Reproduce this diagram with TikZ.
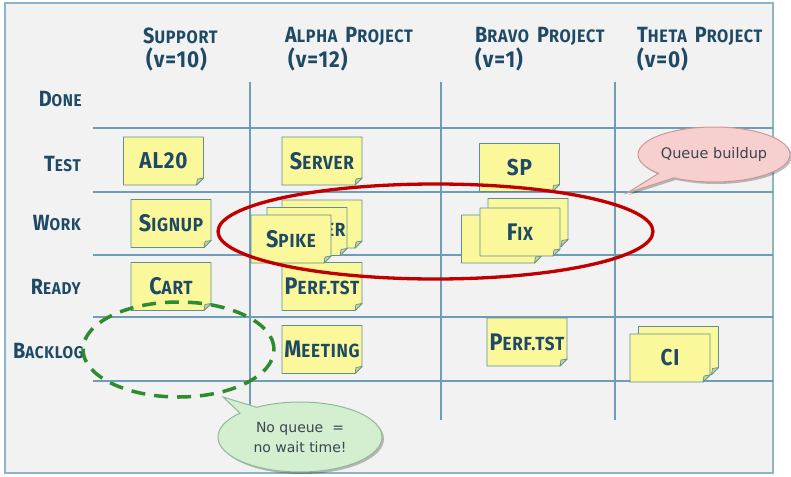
\documentclass[tikz,border=0pt]{standalone}
\usepackage{fontspec}
\usetikzlibrary{shapes.geometric,shapes.callouts,shadows}
\newfontfamily\hand[FakeStretch=0.9,LetterSpace=4]{Fira Sans}
\newfontfamily\callfont{DejaVu Sans}
\definecolor{ink}{HTML}{1F4A66}
\definecolor{framec}{HTML}{8DB4C8}
\definecolor{paper}{HTML}{F2F2F2}
\definecolor{gridc}{HTML}{6E9DB5}
\definecolor{stickyfill}{HTML}{FBF89C}
\definecolor{stickyline}{HTML}{5F8F93}
\definecolor{foldfill}{HTML}{C9D49A}
\definecolor{ringred}{HTML}{C00000}
\definecolor{ringgreen}{HTML}{2E8B2E}
\definecolor{pinkfill}{HTML}{F8CFCF}
\definecolor{pinkline}{HTML}{C79A9A}
\definecolor{greenfill}{HTML}{D3EFCF}
\definecolor{greenline}{HTML}{8DBB96}
\definecolor{calltext}{HTML}{3A4550}
\newcommand\hsc[4]{{\fontsize{#1}{#1}\selectfont #2}{\fontsize{#3}{#3}\selectfont #4}}
\newcommand\stx[2]{\hsc{24}{#1}{19}{#2}}
\newcommand\hdx[2]{\hsc{22}{#1}{18}{#2}}
\newcommand\rwx[2]{\hsc{22}{#1}{17}{#2}}
\newcommand\vtx[1]{{\fontsize{23}{23}\selectfont #1}}
\newcommand\wsp{\hspace{8pt}}
\newcommand\sticky[4]{%
  \coordinate (#1c) at (#2,#3);
  \filldraw[stickybody] ([shift={(-40,-24)}]#1c) -- ++(80,0) -- ++(0,41) -- ++(-7,7) -- ++(-73,0) -- cycle;
  \filldraw[stickyfold] ([shift={(40,17)}]#1c) -- ++(-7,7) -- ++(1,-6) -- cycle;
  \node[stickytext] (#1) at (#1c) {#4};
}
\tikzset{
  stickybody/.style={fill=stickyfill, draw=stickyline, line width=0.9pt, line join=round},
  stickyfold/.style={fill=foldfill, draw=stickyline, line width=0.7pt, line join=round},
  stickytext/.style={inner sep=0pt, text=ink, font=\hand\bfseries},
  header/.style={inner sep=0pt, text=ink, font=\hand\bfseries},
  rowlabel/.style={inner sep=0pt, text=ink, font=\hand\bfseries, anchor=east},
  gridline/.style={draw=gridc, line width=1.1pt},
  redring/.style={ellipse, draw=ringred, line width=3.3pt, inner sep=0pt},
  greenring/.style={ellipse, draw=ringgreen, line width=3.5pt, dash pattern=on 14pt off 9pt, inner sep=0pt},
  callbase/.style={ellipse callout, inner sep=0pt, font=\callfont, text=calltext, align=center,
    drop shadow={shadow xshift=2pt, shadow yshift=-2pt, opacity=0.25, fill=black}},
}
\begin{document}
\begin{tikzpicture}[x=1pt,y=-1pt]
\useasboundingbox (0,0) rectangle (791,476);
% frame
\filldraw[fill=paper, draw=framec, line width=2pt] (5,3) rectangle (773,473);
% grid
\foreach \yy in {128,192,255,317,381} \draw[gridline] (93,\yy) -- (773,\yy);
\foreach \xx in {250,441,615} \draw[gridline] (\xx,82) -- (\xx,420);
% headers
\node[header, anchor=west] (hsup) at (143,36) {\hdx{S}{UPPORT}};
\node[header, anchor=west] (hsupv) at (146,59) {\vtx{(v=10)}};
\node[header, anchor=west] (halp) at (285,36) {\hdx{A}{LPHA}\wsp\hdx{P}{ROJECT}};
\node[header, anchor=west] (halpv) at (288,59) {\vtx{(v=12)}};
\node[header, anchor=west] (hbra) at (475,36) {\hdx{B}{RAVO}\wsp\hdx{P}{ROJECT}};
\node[header, anchor=west] (hbrav) at (475,59) {\vtx{(v=1)}};
\node[header, anchor=west] (hthe) at (637,36) {\hdx{T}{HETA}\wsp\hdx{P}{ROJECT}};
\node[header, anchor=west] (hthev) at (637,59) {\vtx{(v=0)}};
% row labels
\node[rowlabel] (rdone) at (82,99) {\rwx{D}{ONE}};
\node[rowlabel] (rtest) at (81,164) {\rwx{T}{EST}};
\node[rowlabel] (rwork) at (81,223) {\rwx{W}{ORK}};
\node[rowlabel] (rready) at (81,287) {\rwx{R}{EADY}};
\node[rowlabel] (rback) at (84,351) {\rwx{B}{ACKLOG}};
% stickies
\sticky{al}{163.5}{161}{\hsc{23}{AL20}{16}{}}
\sticky{server}{322}{161}{\stx{S}{ERVER}}
\sticky{signup}{171}{223.5}{\stx{S}{IGNUP}}
\sticky{cart}{171}{286.5}{\stx{C}{ART}}
\sticky{perfa}{322}{286.5}{\stx{P}{ERF.TST}}
\sticky{alphaw}{322}{224}{}
\sticky{alphaw2}{307}{231.5}{}
\node[stickytext, anchor=west] (alphaer) at (325,230) {\hsc{19}{}{19}{ER}};
\sticky{spike}{291}{239}{\stx{S}{PIKE}}
\sticky{meeting}{322}{349.5}{\stx{M}{EETING}}
\sticky{sp}{519.5}{167.5}{\hsc{23}{SP}{16}{}}
\sticky{fixb}{501.5}{239}{}
\sticky{fixr}{528}{222.5}{}
\sticky{fix}{520}{232}{\stx{F}{IX}}
\sticky{perfb}{527}{342}{\stx{P}{ERF.TST}}
\sticky{cib}{678.5}{350.5}{}
\sticky{ci}{670}{358}{\hsc{23}{CI}{16}{}}
% rings
\node[redring, minimum width=435pt, minimum height=95pt] (queue) at (435.5,231.5) {};
\node[greenring, minimum width=191pt, minimum height=95pt] (noqueue) at (178.5,349.5) {};
% callouts
\coordinate (pinktip) at (627,193);
\coordinate (greentip) at (223,397);
\node[callbase, fill=pinkfill, draw=pinkline, line width=1pt, minimum width=152pt, minimum height=55pt,
  callout absolute pointer={(pinktip)}, font=\callfont\fontsize{14.5}{16}\selectfont] (qbuild) at (714,154.5) {\makebox[0pt]{Queue buildup}};
\node[callbase, fill=greenfill, draw=greenline, line width=1pt, minimum width=164pt, minimum height=70pt,
  callout absolute pointer={(greentip)}, font=\callfont\fontsize{14}{20}\selectfont] (nowait) at (300,437) {\makebox[0pt]{No queue~~=}\\\makebox[0pt]{no wait time!}};
\end{tikzpicture}
\end{document}
